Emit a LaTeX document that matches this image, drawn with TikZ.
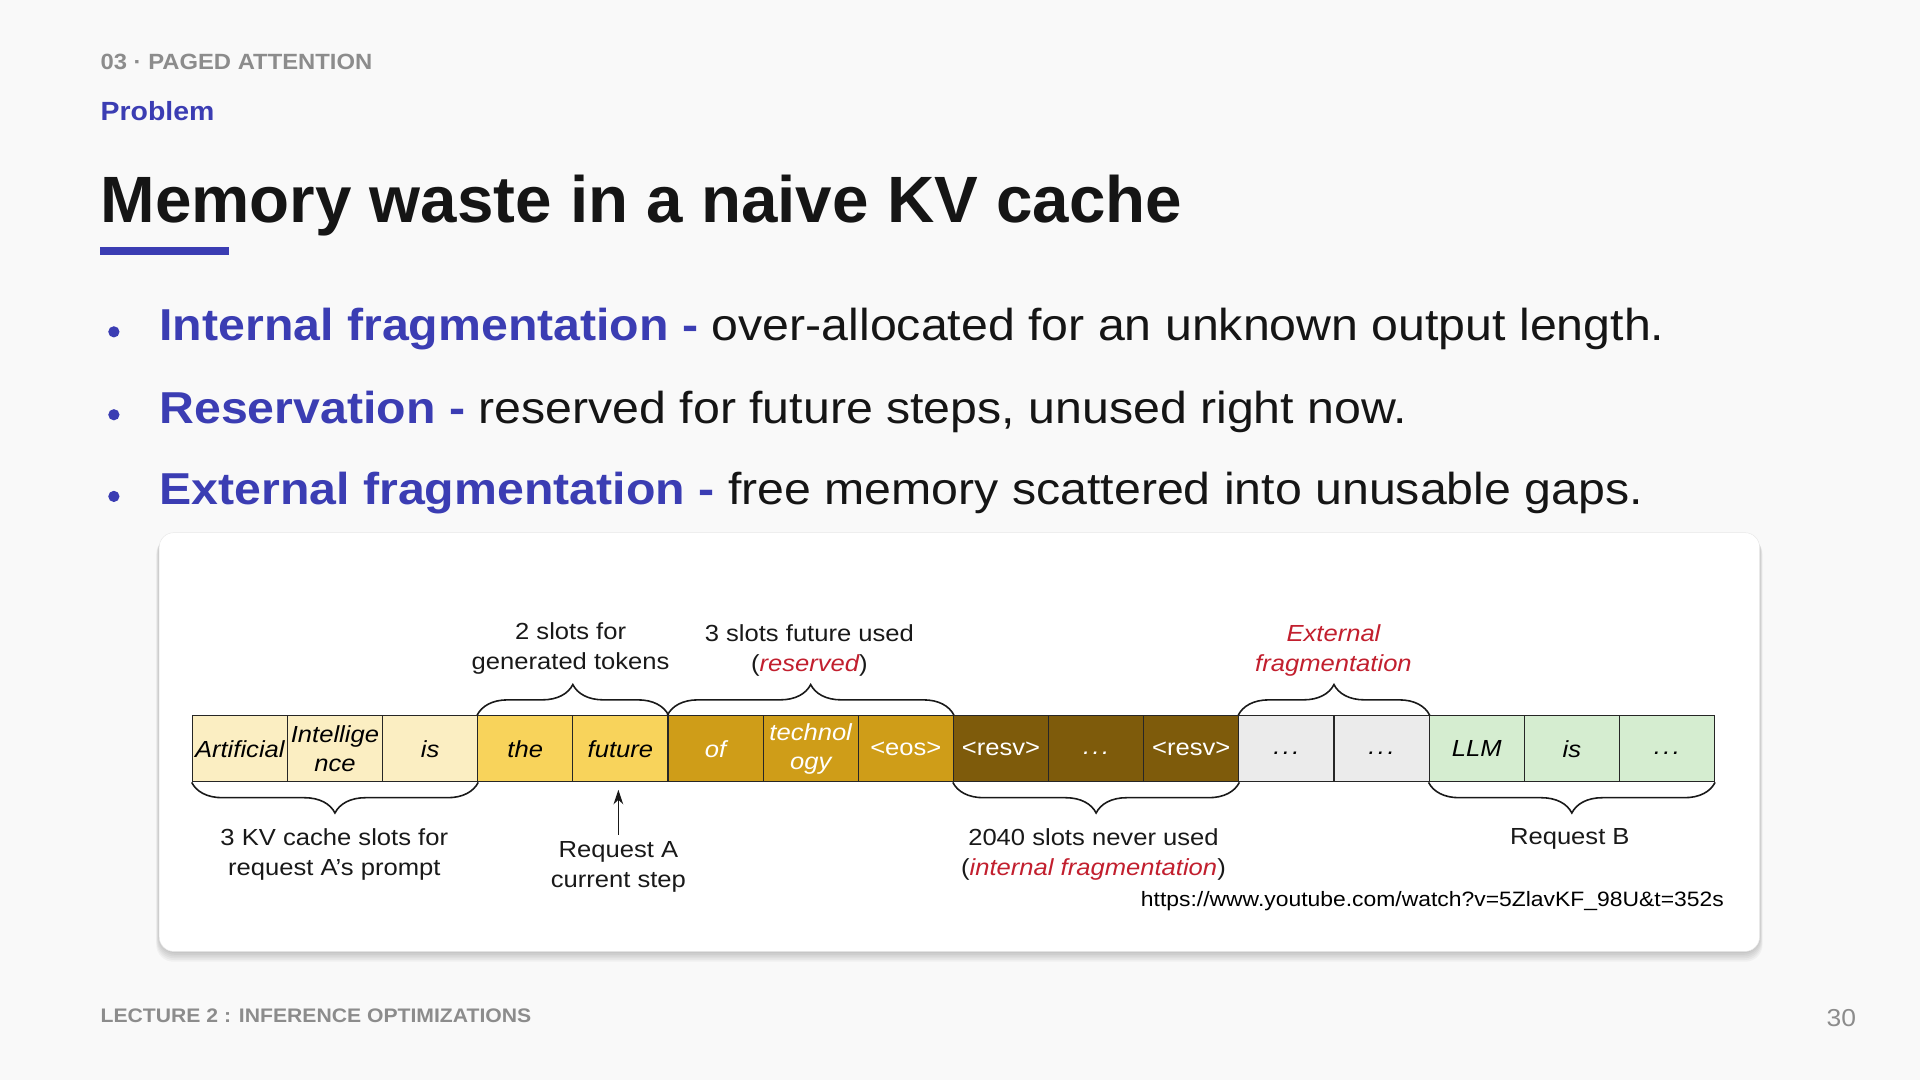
\documentclass[tikz,border=0pt]{standalone}
\usepackage{fontspec}
\setmainfont{Liberation Sans}
\newfontfamily\slidefont[FakeStretch=1.08]{Liberation Sans}
\newfontfamily\figfont[FakeStretch=1.1]{Liberation Sans}
\usepackage{tikz}
\usetikzlibrary{positioning,arrows.meta,decorations.pathreplacing}

\definecolor{ink}{HTML}{151515}
\definecolor{indigo}{HTML}{3B3DB3}
\definecolor{muted}{HTML}{8C8C8C}
\definecolor{paper}{HTML}{F9F9F9}
\definecolor{pale}{HTML}{FBEEC2}
\definecolor{gold}{HTML}{F8D35B}
\definecolor{amber}{HTML}{CF9D18}
\definecolor{umber}{HTML}{7E5B0B}
\definecolor{blank}{HTML}{EBEBEB}
\definecolor{mint}{HTML}{D5EDD0}
\definecolor{alert}{HTML}{C21F2E}
\newcommand{\more}{\vphantom{Ag}.\kern2pt.\kern2pt.}

\tikzset{
  slot/.style={draw=black!85, line width=0.9pt, minimum width=77.7pt, minimum height=54pt, inner sep=0pt, align=center, font=\figfont\fontsize{19}{24}\selectfont\itshape},
  brace/.style={decorate, decoration={brace, amplitude=25pt}, line width=1.3pt, draw=black!90},
  note/.style={align=center, anchor=base, font=\figfont\fontsize{19}{24.5}\selectfont, text=black!90},
  bullet/.style={anchor=base west, inner sep=0pt, font=\slidefont\fontsize{36.5}{40}\selectfont, text=ink},
  caption/.style={anchor=base west, inner sep=0pt}
}

\begin{document}
\begin{tikzpicture}[x=1pt, y=-1pt]
\fill[paper] (0,0) rectangle (1568,882);
\useasboundingbox (0,0) rectangle (1568,882);
\node[caption, font=\slidefont\bfseries\fontsize{18}{20}\selectfont, text=muted] (sec) at (82,56.6) {03 · PAGED ATTENTION};
\node[caption, font=\slidefont\bfseries\fontsize{21.5}{24}\selectfont, text=indigo] (kicker) at (82,98.5) {Problem};
\node[caption, font=\bfseries\fontsize{53.5}{60}\selectfont, text=ink] (title) at (82,181.8) {Memory waste in a naive KV cache};
\fill[indigo] (82,202) rectangle (187,208);
\foreach \y/\head/\body [count=\k] in {278/Internal fragmentation/over-allocated for an unknown output length., 345.7/Reservation/{reserved for future steps, unused right now.}, 412.4/External fragmentation/free memory scattered into unusable gaps.}{
  \fill[indigo] (93,\y-7) circle (4.6pt);
  \node[bullet] (b\k) at (130,\y) {\textcolor{indigo}{\bfseries\head\ -} \body};
}
\foreach \s in {1,...,6}
  \fill[black, opacity=0.035, rounded corners=14pt] (130-\s*0.4,435+\s*0.6) rectangle (1437+\s*0.4,777+\s*1.4);
\draw[draw=black!9, fill=white, rounded corners=12pt] (130,435) rectangle (1437,777);
\foreach \txt/\fg/\col [count=\i] in {Artificial/black/pale, Intellige\\nce/black/pale, is/black/pale, the/black/gold, future/black/gold, of/white/amber, technol\\ogy/white/amber, {\upshape<eos>}/white/amber, {\upshape<resv>}/white/umber, \more/white/umber, {\upshape<resv>}/white/umber, \more/black/blank, \more/black/blank, LLM/black/mint, is/black/mint, \more/black/mint}
  \node[slot, fill=\col, text=\fg] (c\i) at ({157+77.7*(\i-0.5)},611.5) {\txt};
\draw[brace] (c4.north west) -- (c5.north east);
\draw[brace] (c6.north west) -- (c8.north east);
\draw[brace] (c12.north west) -- (c13.north east);
\draw[brace] (c3.south east) -- (c1.south west);
\draw[brace] (c11.south east) -- (c9.south west);
\draw[brace] (c16.south east) -- (c14.south west);
\node[note] (gen) at (466,547) {2 slots for\\generated tokens};
\node[note] (resv) at (661,548.5) {3 slots future used\\(\textcolor{alert}{\itshape reserved})};
\node[note, text=alert, font=\figfont\itshape\fontsize{19}{24.5}\selectfont] (ext) at (1089,548.5) {External\\fragmentation};
\node[note] (prompt) at (273,714.6) {3 KV cache slots for\\request A’s prompt};
\node[note] (never) at (893,714.6) {2040 slots never used\\(\textcolor{alert}{\itshape internal fragmentation})};
\node[note] (reqB) at (1282,690) {Request B};
\node[note] (reqA) at (505,725) {Request A\\current step};
\draw[-{Stealth[length=12pt,width=8pt]}, line width=1.4pt, shorten >=6pt, shorten <=2pt, black!90] (reqA.north) -- (reqA.north |- c5.south);
\node[anchor=base east, inner sep=0pt, font=\figfont\fontsize{17}{20}\selectfont] (src) at (1408,740.5) {https://www.youtube.com/watch?v=5ZlavKF\_98U\&t=352s};
\node[caption, font=\slidefont\bfseries\fontsize{16}{18}\selectfont, text=muted] (foot) at (82,835) {LECTURE 2 : INFERENCE OPTIMIZATIONS};
\node[anchor=base east, inner sep=0pt, font=\slidefont\fontsize{20}{22}\selectfont, text=muted] (page) at (1516,838) {30};
\end{tikzpicture}
\end{document}
